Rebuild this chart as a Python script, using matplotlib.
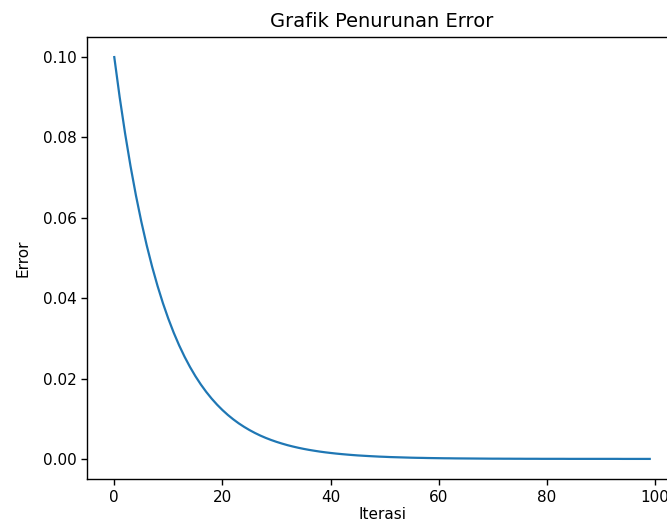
import matplotlib
matplotlib.use("Agg")
import matplotlib.pyplot as plt

# error per iteration
iterasi = list(range(100))
error = [
    0.10000, 0.09000, 0.08100, 0.07290, 0.06561, 0.05905, 0.05314, 0.04783, 0.04305, 0.03874,
    0.03487, 0.03138, 0.02824, 0.02542, 0.02288, 0.02059, 0.01853, 0.01668, 0.01501, 0.01351,
    0.01216, 0.01094, 0.00985, 0.00886, 0.00798, 0.00718, 0.00646, 0.00581, 0.00523, 0.00471,
    0.00424, 0.00382, 0.00343, 0.00309, 0.00278, 0.00250, 0.00225, 0.00203, 0.00182, 0.00164,
    0.00148, 0.00133, 0.00120, 0.00108, 0.00097, 0.00087, 0.00079, 0.00071, 0.00064, 0.00057,
    0.00052, 0.00046, 0.00042, 0.00038, 0.00034, 0.00030, 0.00027, 0.00025, 0.00022, 0.00020,
    0.00018, 0.00016, 0.00015, 0.00013, 0.00012, 0.00011, 0.00010, 0.00009, 0.00008, 0.00007,
    0.00006, 0.00006, 0.00005, 0.00005, 0.00004, 0.00004, 0.00003, 0.00003, 0.00003, 0.00002,
    0.00002, 0.00002, 0.00002, 0.00002, 0.00001, 0.00001, 0.00001, 0.00001, 0.00001, 0.00001,
    0.00001, 0.00001, 0.00001, 0.00001, 0.00000, 0.00000, 0.00000, 0.00000, 0.00000, 0.00000,
]

FS_TICK, FS_LABEL, FS_TITLE = 11, 11, 14

fig = plt.figure(figsize=(6.67, 5.28), dpi=100)
ax = fig.add_axes([87.5 / 667, 49 / 528, 589 / 667, 442 / 528])

ax.plot(iterasi, error, color="#1f77b4", lw=1.6)
ax.set_title("Grafik Penurunan Error", fontsize=FS_TITLE, pad=7)
ax.set_xlabel("Iterasi", fontsize=FS_LABEL, labelpad=2)
ax.set_ylabel("Error", fontsize=FS_LABEL, labelpad=9)
ax.tick_params(labelsize=FS_TICK, length=4.2, width=1.0)
for s in ax.spines.values():
    s.set_linewidth(1.0)

fig.savefig("out.png", dpi=100)
